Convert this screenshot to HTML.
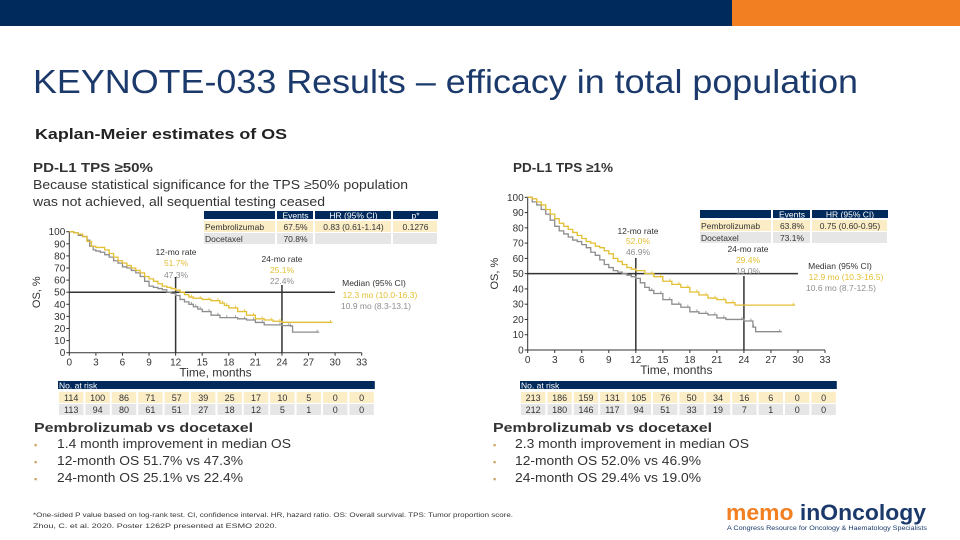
<!DOCTYPE html>
<html><head><meta charset="utf-8"><style>
html,body{margin:0;padding:0;background:#fff;}
svg{display:block;font-family:"Liberation Sans",sans-serif;}
</style></head><body>
<svg id="s" width="960" height="540" viewBox="0 0 960 540" xmlns="http://www.w3.org/2000/svg">
<rect x="0" y="0" width="732" height="26" fill="#002a5c"/>
<rect x="732" y="0" width="228" height="26" fill="#f27f22"/>
<text x="33" y="93" font-size="33" fill="#1b3a6b" textLength="825" lengthAdjust="spacingAndGlyphs">KEYNOTE-033 Results – efficacy in total population</text>
<text x="35" y="139" font-size="15" font-weight="bold" fill="#222" textLength="252" lengthAdjust="spacingAndGlyphs">Kaplan-Meier estimates of OS</text>
<g font-size="13" fill="#333">
<text x="33" y="172" font-weight="bold" textLength="120" lengthAdjust="spacingAndGlyphs">PD-L1 TPS ≥50%</text>
<text x="33" y="189" textLength="375" lengthAdjust="spacingAndGlyphs">Because statistical significance for the TPS ≥50% population</text>
<text x="33" y="206" textLength="292" lengthAdjust="spacingAndGlyphs">was not achieved, all sequential testing ceased</text>
</g>
<text x="513" y="172" font-size="13" font-weight="bold" fill="#333" textLength="100" lengthAdjust="spacingAndGlyphs">PD-L1 TPS ≥1%</text>
<g id="L"></g>
<g id="R"></g>
<g font-size="13" fill="#333">
<text x="34" y="432" font-weight="bold" textLength="219" lengthAdjust="spacingAndGlyphs">Pembrolizumab vs docetaxel</text>
<text x="34" y="448" fill="#c8a060" font-size="9">▪</text><text x="57" y="448" textLength="234" lengthAdjust="spacingAndGlyphs">1.4 month improvement in median OS</text>
<text x="34" y="465" fill="#c8a060" font-size="9">▪</text><text x="57" y="465" textLength="186" lengthAdjust="spacingAndGlyphs">12-month OS 51.7% vs 47.3%</text>
<text x="34" y="482" fill="#c8a060" font-size="9">▪</text><text x="57" y="482" textLength="186" lengthAdjust="spacingAndGlyphs">24-month OS 25.1% vs 22.4%</text>
</g>
<g font-size="13" fill="#333">
<text x="493" y="432" font-weight="bold" textLength="219" lengthAdjust="spacingAndGlyphs">Pembrolizumab vs docetaxel</text>
<text x="493" y="448" fill="#c8a060" font-size="9">▪</text><text x="515" y="448" textLength="234" lengthAdjust="spacingAndGlyphs">2.3 month improvement in median OS</text>
<text x="493" y="465" fill="#c8a060" font-size="9">▪</text><text x="515" y="465" textLength="186" lengthAdjust="spacingAndGlyphs">12-month OS 52.0% vs 46.9%</text>
<text x="493" y="482" fill="#c8a060" font-size="9">▪</text><text x="515" y="482" textLength="186" lengthAdjust="spacingAndGlyphs">24-month OS 29.4% vs 19.0%</text>
</g>
<g font-size="6.5" fill="#333">
<text x="33" y="517" textLength="480" lengthAdjust="spacingAndGlyphs">*One-sided P value based on log-rank test. CI, confidence interval. HR, hazard ratio. OS: Overall survival. TPS: Tumor proportion score.</text>
<text x="33" y="528" textLength="244" lengthAdjust="spacingAndGlyphs">Zhou, C. et al. 2020. Poster 1262P presented at ESMO 2020.</text>
</g>
<g>
<text x="726" y="520" font-size="22" font-weight="bold" fill="#f27f22" textLength="200" lengthAdjust="spacingAndGlyphs">memo <tspan fill="#1b3a6b">inOncology</tspan></text>
<text x="727" y="530" font-size="6" fill="#1b3a6b" textLength="200" lengthAdjust="spacingAndGlyphs">A Congress Resource for Oncology &amp; Haematology Specialists</text>
</g>
</svg>
<script>
const NS="http://www.w3.org/2000/svg";
// ---- data ----
const xTicks=[0,3,6,9,12,15,18,21,24,27,30,33];
const yTicks=[0,10,20,30,40,50,60,70,80,90,100];
const leftPembroT=[0,0.5,1,1.5,2,2.5,3,3.5,4,4.5,5,5.5,6,6.5,7,7.5,8,8.5,9,9.5,10,10.5,11,11.5,12,12.5,13,13.5,14,15,16,17,17.5,18,19,20,21,22,23,24,29.7];
const leftPembroS=[100,99,98,96,92,88,87,87,85,82,79,76,74,72,70,68,66,63,61,59,57,55,54,53,51.7,50,48,46,45,44,43,41,39,37,34,31,28,27,26,25.1,25.1];
const leftDoceT=[0,0.5,1,1.5,2,2.3,2.7,3,3.5,4,4.5,5,5.5,6,6.5,7,7.5,8,8.5,9,9.5,10,10.5,11,11.5,12,12.5,13,13.5,14,14.5,15,16,17,18,19,20,21,22,24,25,25.2,28.2];
const leftDoceS=[100,99,97,96,93,88,85,84,83,81,79,76,74,71,70,68,66,63,59,55,54,53,52,50,49,47.3,44,42,40,38,36,34,31,29,29,28,27,25,23,22.4,22,17,17];
const rightPembroT=[0,0.5,1,1.5,2,2.5,3,3.5,4,4.5,5,5.5,6,6.5,7,7.5,8,8.5,9,9.5,10,10.5,11,11.5,12,13,14,15,16,17,18,19,20,21,22,23,29.7];
const rightPembroS=[100,99,97,95,92,89,86,83,81,79,77,75,73,71,70,68,67,65,63,60,58,56,54,53,52,50,48,45,43,41,38,36,34,33,31,29.4,29.4];
const rightDoceT=[0,0.5,1,1.5,2,2.5,3,3.5,4,4.5,5,5.5,6,6.5,7,7.5,8,8.5,9,9.5,10,10.5,11,11.5,12,12.5,13,13.5,14,15,16,17,18,19,20,21,22,24,25,25.3,28.2];
const rightDoceS=[100,97,95,92,89,85,81,78,76,74,72,71,69,67,64,62,59,56,54,52,51,50,49,48,46.9,44,41,39,37,33,30,28,25,24,23,21,20,19,15,12,12];
const leftRiskPembro=[114,100,86,71,57,39,25,17,10,5,0,0];
const leftRiskDoce=[113,94,80,61,51,27,18,12,5,1,0,0];
const rightRiskPembro=[213,186,159,131,105,76,50,34,16,6,0,0];
const rightRiskDoce=[212,180,146,117,94,51,33,19,7,1,0,0];
const YEL="#e3bf33", GRY="#8d8d8d", NAVY="#002a5c", YBG="#fbedc6", GBG="#e6e6e6";

function el(p,tag,attrs,txt){const e=document.createElementNS(NS,tag);for(const k in attrs)e.setAttribute(k,attrs[k]);if(txt!==undefined)e.textContent=txt;p.appendChild(e);return e;}

function chart(g,cfg){
  const X=t=>cfg.x0+(cfg.x1-cfg.x0)*t/33, Y=v=>cfg.y0-(cfg.y0-cfg.y1)*v/100;
  const ax=el(g,'line',{x1:X(0),y1:Y(0),x2:X(33),y2:Y(0),stroke:'#333','stroke-width':1});
  
  const ay=el(g,'line',{x1:X(0),y1:Y(0),x2:X(0),y2:Y(100),stroke:'#333','stroke-width':1});
  
  xTicks.forEach(t=>{el(g,'line',{x1:X(t),y1:Y(0),x2:X(t),y2:Y(0)+3,stroke:'#333'});
    const tx=el(g,'text',{x:X(t),y:Y(0)+13,'font-size':10,'text-anchor':'middle',fill:'#333'},t);
    });
  yTicks.forEach(v=>{el(g,'line',{x1:X(0)-3,y1:Y(v),x2:X(0),y2:Y(v),stroke:'#333'});
    const tx=el(g,'text',{x:X(0)-4,y:Y(v)+3.5,'font-size':10,'text-anchor':'end',fill:'#333'},v);
    });
  const xt=el(g,'text',{x:X(16.5),y:Y(0)+24,'font-size':12,'text-anchor':'middle',fill:'#333'},'Time, months');
  
  const yt=el(g,'text',{x:0,y:0,'font-size':11,'text-anchor':'middle',fill:'#333',transform:`translate(${cfg.ytX},${Y(50)}) rotate(-90)`},'OS, %');
  
  const h=el(g,'line',{x1:X(0),y1:Y(50),x2:cfg.hEnd,y2:Y(50),stroke:'#333','stroke-width':1.5});
  
  [[12,cfg.v12],[24,cfg.v24]].forEach(([t,top])=>{const l=el(g,'line',{x1:X(t),y1:top,x2:X(t),y2:Y(0),stroke:'#333','stroke-width':1.5});
    });
  function curve(T,S,col,name){let d=`M${X(T[0])},${Y(S[0])}`;
    for(let i=1;i<T.length;i++){d+=`H${X(T[i])}V${Y(S[i])}`;}
    const p=el(g,'path',{d:d,fill:'none',stroke:col,'stroke-width':1.3});
    
    // censor ticks on later part
    for(let i=1;i<T.length;i++){ if(T[i]>=14){const c=el(g,'line',{x1:X(T[i])-2,y1:Y(S[i-1])-2.5,x2:X(T[i])-2,y2:Y(S[i-1])+0.5,stroke:col,'stroke-width':0.8});
      }}}
  curve(cfg.dT,cfg.dS,GRY,'docetaxel-curve');
  curve(cfg.pT,cfg.pS,YEL,'pembrolizumab-curve');
  cfg.ann.forEach(a=>{const t=el(g,'text',{x:a[0],y:a[1],'font-size':8.5,fill:a[3],'text-anchor':'middle'},a[2]);
    });
  const tb=cfg.table;
  const hdr=el(g,'rect',{x:tb.x,y:tb.y,width:tb.w,height:8,fill:NAVY});
  
  tb.cols.forEach((c,i)=>{ if(i>0){el(g,'line',{x1:c[0]-1,y1:tb.y,x2:c[0]-1,y2:tb.y+32,stroke:'#fff','stroke-width':2});}
    el(g,'text',{x:c[0]+c[1]/2,y:tb.y+7.5,'font-size':8.5,'text-anchor':'middle',fill:'#fff'},tb.hdr[i]);
    tb.rows.forEach((r,j)=>{const ry=tb.y+10+j*12;
      el(g,'rect',{x:c[0],y:ry,width:c[1]-1,height:11,fill:j==0?YBG:GBG});
      el(g,'text',{x:i==0?c[0]+1:c[0]+c[1]/2,y:ry+9,'font-size':8.5,'text-anchor':i==0?'start':'middle',fill:'#333'},r[i]);});});
  const rk=cfg.risk;
  const rh=el(g,'rect',{x:rk.x,y:rk.y,width:rk.cw*12,height:8,fill:NAVY});
  
  el(g,'text',{x:rk.x+1,y:rk.y+7.5,'font-size':8.5,fill:'#fff'},'No. at risk');
  [cfg.rp,cfg.rd].forEach((arr,j)=>arr.forEach((v,i)=>{const rx=rk.x+i*rk.cw, ry=rk.y+11+j*12;
    const r=el(g,'rect',{x:rx+1,y:ry,width:rk.cw-2,height:11,fill:j==0?YBG:GBG});
    
    el(g,'text',{x:rx+rk.cw/2,y:ry+9,'font-size':9,'text-anchor':'middle',fill:'#333'},v);}));
}
chart(document.getElementById('L'),{x0:69.3,x1:361.7,y0:352.7,y1:231.7,ytX:40,hEnd:335,v12:277,v24:285,
  pT:leftPembroT,pS:leftPembroS,dT:leftDoceT,dS:leftDoceS,rp:leftRiskPembro,rd:leftRiskDoce,
  ann:[[176,255,'12-mo rate','#333'],[176,266,'51.7%',YEL],[176,278,'47.3%',GRY],
       [282,262,'24-mo rate','#333'],[282,273,'25.1%',YEL],[282,284,'22.4%',GRY],
       [374,286,'Median (95% CI)','#333'],[380,298,'12.3 mo (10.0-16.3)',YEL],[376,309,'10.9 mo (8.3-13.1)',GRY]],
  table:{x:204,y:211,w:234,hdr:['','Events','HR (95% CI)','p*'],cols:[[204,72],[277,37],[315,77],[393,45]],
    rows:[['Pembrolizumab','67.5%','0.83 (0.61-1.14)','0.1276'],['Docetaxel','70.8%','','']]},
  risk:{x:58,y:381,cw:26.4}});
chart(document.getElementById('R'),{x0:527.7,x1:825,y0:350,y1:197.3,ytX:498,hEnd:798,v12:258,v24:276,
  pT:rightPembroT,pS:rightPembroS,dT:rightDoceT,dS:rightDoceS,rp:rightRiskPembro,rd:rightRiskDoce,
  ann:[[638,234,'12-mo rate','#333'],[638,244,'52.0%',YEL],[638,255,'46.9%',GRY],
       [748,252,'24-mo rate','#333'],[748,263,'29.4%',YEL],[748,274,'19.0%',GRY],
       [840,269,'Median (95% CI)','#333'],[846,280,'12.9 mo (10.3-16.5)',YEL],[841,291,'10.6 mo (8.7-12.5)',GRY]],
  table:{x:700,y:210,w:188,hdr:['','Events','HR (95% CI)'],cols:[[700,72],[773,38],[812,76]],
    rows:[['Pembrolizumab','63.8%','0.75 (0.60-0.95)'],['Docetaxel','73.1%','']]},
  risk:{x:520,y:381,cw:26.4}});
</script>
</body></html>
